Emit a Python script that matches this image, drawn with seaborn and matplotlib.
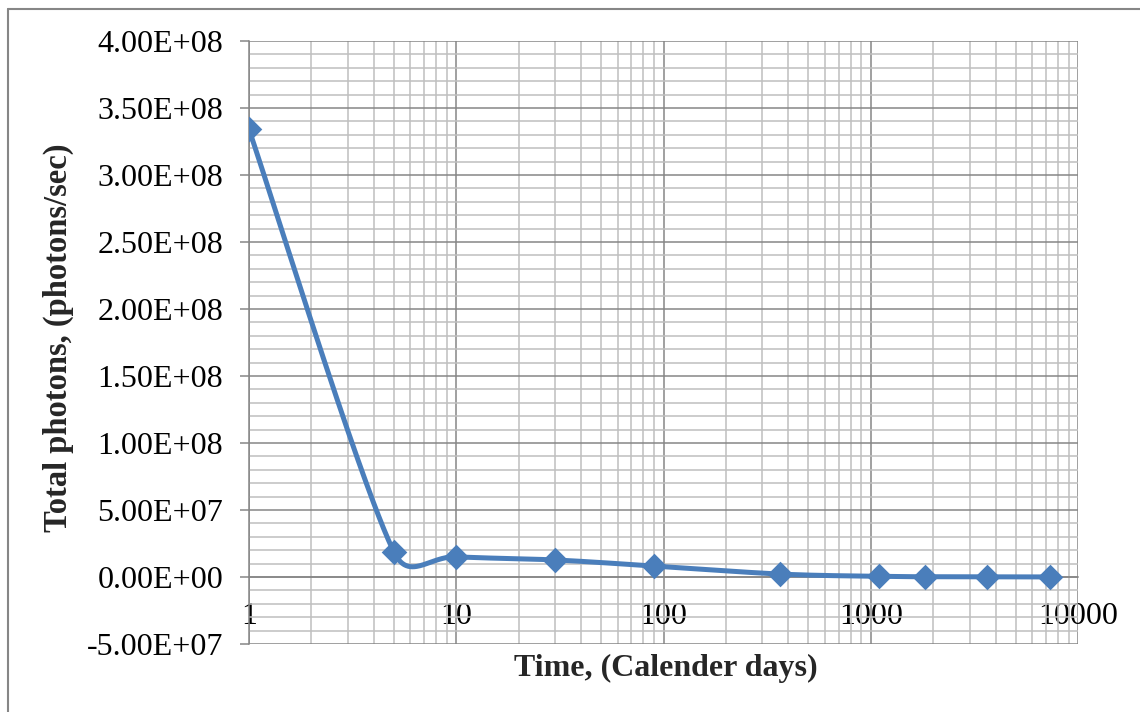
import numpy as np
import matplotlib
matplotlib.use("Agg")
import matplotlib.pyplot as plt
import seaborn as sns
from matplotlib.ticker import FixedLocator, MultipleLocator, FuncFormatter, NullFormatter
from matplotlib.lines import Line2D

# ---- data ----
days = [1, 5, 10, 30, 90, 365, 1095, 1825, 3650, 7300]
photons = [3.34e8, 1.87e7, 1.50e7, 1.27e7, 8.2e6, 2.2e6, 5.0e5, 2.0e5, 1.0e5, 5.0e4]
x_ticks = [1, 10, 100, 1000, 10000]
x_tick_labels = ["1", "10", "100", "1000", "10000"]
y_min, y_max, y_step, y_minor = -5e7, 4e8, 5e7, 1e7
x_title = "Time, (Calender days)"
y_title = "Total photons, (photons/sec)"

LINE_COLOR = "#4A7EBB"
MAJOR = "#868686"
MINOR = "#BFBFBF"

sns.set_theme(style="white")
plt.rcParams["font.family"] = ["Liberation Serif", "DejaVu Serif"]

W, H = 1140, 712
fig = plt.figure(figsize=(W / 100, H / 100), dpi=100)
ax_l, ax_r, ax_t, ax_b = 249, 1078, 41, 644
ax = fig.add_axes([ax_l / W, 1 - ax_b / H, (ax_r - ax_l) / W, (ax_b - ax_t) / H])


def excel_smooth(xs, ys, sx, sy, n=80, limit=0.55):
    """Excel-like smoothed line: cubic Bezier segments in screen space."""
    P = np.column_stack([np.log10(np.asarray(xs, float)) * sx, np.asarray(ys, float) * sy])
    m = len(P)
    out = []
    for i in range(m - 1):
        p0 = P[i - 1] if i > 0 else P[i]
        p1, p2 = P[i], P[i + 1]
        p3 = P[i + 2] if i + 2 < m else P[i + 1]
        d = np.linalg.norm(p2 - p1)
        t1 = (p2 - p0) / 6.0
        t2 = (p3 - p1) / 6.0
        for t in (t1, t2):
            L = np.linalg.norm(t)
            if L > limit * d and L > 0:
                t *= limit * d / L
        c1 = p1 + t1
        c2 = p2 - t2
        tt = np.linspace(0, 1, n, endpoint=(i == m - 2))[:, None]
        seg = ((1 - tt) ** 3) * p1 + 3 * ((1 - tt) ** 2) * tt * c1 + 3 * (1 - tt) * tt ** 2 * c2 + tt ** 3 * p2
        out.append(seg)
    C = np.vstack(out)
    return 10 ** (C[:, 0] / sx), C[:, 1] / sy


px_per_decade = (ax_r - ax_l) / 4.0
px_per_unit = (ax_b - ax_t) / (y_max - y_min)
sx_vals, sy_vals = excel_smooth(days, photons, px_per_decade, px_per_unit)

sns.lineplot(x=sx_vals, y=sy_vals, sort=False, estimator=None, ax=ax,
             color=LINE_COLOR, linewidth=3.6, zorder=3)
sns.scatterplot(x=days, y=photons, ax=ax, marker="D", s=170, color=LINE_COLOR,
                edgecolor=LINE_COLOR, linewidth=0, zorder=4)

ax.set_xscale("log")
ax.set_xlim(x_ticks[0], x_ticks[-1])
ax.set_ylim(y_min, y_max)

ax.xaxis.set_major_locator(FixedLocator(x_ticks))
ax.set_xticklabels(x_tick_labels)
ax.xaxis.set_minor_locator(FixedLocator([m * 10 ** k for k in range(4) for m in range(2, 10)]))
ax.xaxis.set_minor_formatter(NullFormatter())
ax.yaxis.set_major_locator(MultipleLocator(y_step))
ax.yaxis.set_minor_locator(MultipleLocator(y_minor))
ax.yaxis.set_major_formatter(FuncFormatter(lambda v, p: f"{v:.2E}"))

ax.grid(which="minor", color=MINOR, linewidth=1.1)
ax.grid(which="major", color=MAJOR, linewidth=1.1)
ax.set_axisbelow(True)

for s in ("top", "right"):
    ax.spines[s].set_visible(False)
ax.spines["left"].set_color(MAJOR)
ax.spines["left"].set_linewidth(1.1)
ax.spines["bottom"].set_position(("data", 0))
ax.spines["bottom"].set_color(MAJOR)
ax.spines["bottom"].set_linewidth(1.1)

ax.tick_params(axis="x", which="both", length=0, pad=18, labelsize=23, labelcolor="black")
ax.tick_params(axis="y", which="major", direction="out", length=6.5, width=1.1,
               color=MAJOR, pad=12, labelsize=23, labelcolor="black", left=True)
ax.tick_params(axis="y", which="minor", length=0)

fig.text(665.5 / W, 1 - 668 / H, x_title, ha="center", va="center",
         fontsize=23, fontweight="bold")
fig.text(58 / W, 1 - 338 / H, y_title, ha="center", va="center", rotation=90,
         fontsize=23.5, fontweight="bold")

# outer chart border (left and top edges visible)
fig.add_artist(Line2D([8 / W, 8 / W], [0, 1 - 9 / H], transform=fig.transFigure,
                      color=MAJOR, linewidth=1.5))
fig.add_artist(Line2D([8 / W, 1], [1 - 9 / H, 1 - 9 / H], transform=fig.transFigure,
                      color=MAJOR, linewidth=1.5))

fig.savefig("out.png", dpi=100)
